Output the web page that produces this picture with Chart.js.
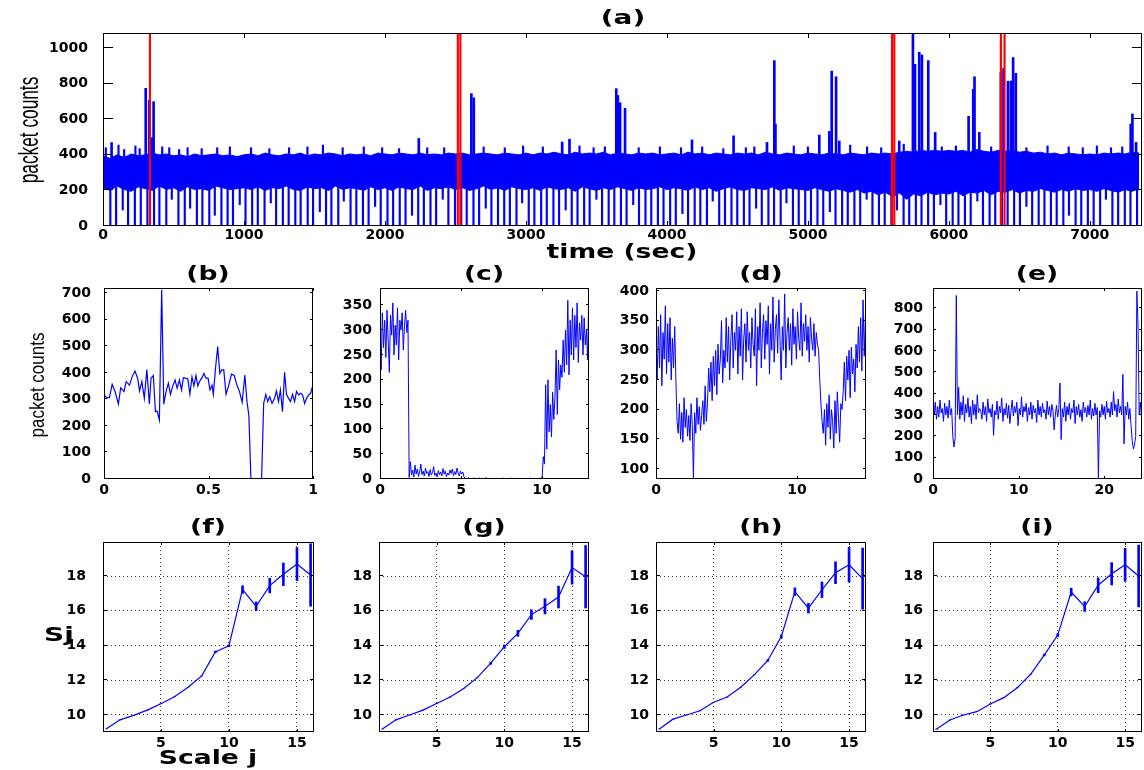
<!DOCTYPE html>
<html>
<head>
<meta charset="utf-8">
<script src="https://cdn.jsdelivr.net/npm/chart.js@4.4.0/dist/chart.umd.min.js"></script>
<style>
  html, body { margin: 0; padding: 0; background: #fff; }
  #page { position: relative; width: 1144px; height: 770px; overflow: hidden; background: #fff; }
  canvas { position: absolute; z-index: 1; }
  .lbl { position: absolute; z-index: 2; white-space: nowrap; line-height: 1; color: #000;
         font-family: "DejaVu Sans", sans-serif; font-weight: bold;
         transform: translate(-50%, -50%) scaleX(1.4); }
  .ylbl { position: absolute; z-index: 2; white-space: nowrap; line-height: 1; color: #000;
          font-family: "Liberation Sans", Arial, sans-serif; }
</style>
</head>
<body>
<div id="page">
  <div class="lbl" style="left:623px;top:17px;font-size:20px">(a)</div>
  <div class="lbl" style="left:622px;top:251px;font-size:19px">time (sec)</div>
  <div class="ylbl" style="left:29px;top:130px;font-size:27px;transform:translate(-50%,-50%) rotate(-90deg) scaleX(0.64)">packet counts</div>

  <div class="lbl" style="left:208px;top:273px;font-size:19px">(b)</div>
  <div class="lbl" style="left:484px;top:273px;font-size:19px">(c)</div>
  <div class="lbl" style="left:761px;top:273px;font-size:19px">(d)</div>
  <div class="lbl" style="left:1037px;top:273px;font-size:19px">(e)</div>
  <div class="ylbl" style="left:37px;top:385px;font-size:20px;transform:translate(-50%,-50%) rotate(-90deg) scaleX(0.85)">packet counts</div>

  <div class="lbl" style="left:208px;top:526px;font-size:19px">(f)</div>
  <div class="lbl" style="left:484px;top:526px;font-size:19px">(g)</div>
  <div class="lbl" style="left:761px;top:526px;font-size:19px">(h)</div>
  <div class="lbl" style="left:1037px;top:526px;font-size:19px">(i)</div>
  <div class="lbl" style="left:59px;top:634px;font-size:20px">Sj</div>
  <div class="lbl" style="left:208px;top:757px;font-size:19px">Scale j</div>
</div>
<script>
// ---------- (a) whole trace, 0 .. 7370 s ----------
const aBandStep = 50;   // envelope read every 50 s
const aUpper = [
  395,380,400,385,405,395,400,410,400,405,395,400,390,405,395,400,405,395,400,390,
  400,405,395,410,400,395,405,400,410,395,405,400,410,405,395,405,400,405,395,410,
  405,400,410,405,400,410,400,405,400,410,405,410,400,405,410,405,400,410,405,400,
  410,400,410,405,415,405,400,415,405,410,405,415,400,410,405,400,410,405,410,400,
  405,410,400,415,405,410,400,410,405,400,410,405,410,400,415,405,400,410,405,400,
  410,405,400,410,405,400,410,405,400,410,405,410,405,415,420,415,425,420,425,420,
  425,420,425,415,430,420,415,425,420,425,415,420,410,415,405,410,400,410,405,400,
  405,400,410,405,410,405,415,410
];
const aLower = [
  215,200,225,205,195,220,210,200,225,205,215,195,220,205,210,200,225,215,205,210,
  215,205,220,200,215,210,225,205,200,220,210,215,200,225,205,215,210,200,220,205,
  215,200,220,210,205,225,200,215,210,220,205,215,200,210,225,205,215,200,220,210,
  205,215,200,220,210,205,215,195,220,210,200,215,205,220,210,200,215,205,210,220,
  205,215,210,200,220,205,215,195,210,220,205,200,215,210,205,220,200,215,210,205,
  200,215,205,195,210,200,190,205,185,195,175,190,165,185,150,180,170,190,175,185,
  180,195,170,190,185,200,175,195,190,205,185,200,195,210,200,190,205,195,210,200,
  205,195,210,200,190,205,195,210
];
// small bursts just above the band
const aMinorTimes = [20,110,150,230,260,420,470,540,600,700,810,900,1050,1180,1320,1450,1560,1700,1850,1980,
  2100,2300,2420,2700,2850,2980,3120,3380,3480,3560,3800,3950,4100,4250,4400,4560,4620,4900,5000,5300,
  5420,5520,5680,5950,6050,6300,6550,6700,6850,6950,7050,7150,7230];
const aMinorPeaks = [440,455,430,450,435,445,440,430,440,435,440,445,440,435,440,445,455,440,445,440,
  435,440,440,445,440,450,445,450,440,445,440,445,440,445,435,440,445,450,445,455,
  445,440,460,445,450,445,440,450,445,440,450,440,445];
const aDipTimes = [
  52,93,140,178,226,268,315,362,400,449, 488,535,580,618,666,705,754,793,840,884,
  922,970,1011,1058,1098,1146,1190,1228,1276,1317, 1364,1402,1452,1490,1538,1582,1620,1669,1708,1756,
  1797,1844,1884,1930,1970,2018,2058,2105,2146,2192, 2236,2276,2323,2363,2410,2450,2497,2541,2580,2628,
  2668,2715,2755,2802,2846,2886,2933,2973,3020,3060, 3108,3148,3195,3235,3282,3325,3366,3413,3452,3500,
  3540,3587,3627,3674,3714,3761,3802,3848,3889,3936, 3976,4023,4063,4110,4150,4197,4237,4284,4325,4371,
  4412,4458,4499,4546,4586,4633,4673,4720,4760,4807, 4848,4894,4935,4981,5022,5068,5109,5156,5196,5243,
  5283,5330,5371,5417,5458,5504,5545,5592,5632,5679, 5719,5766,5806,5853,5894,5940,5981,6027,6068,6114,
  6155,6202,6242,6289,6329,6376,6417,6463,6504,6550, 6591,6637,6678,6724,6765,6812,6852,6899,6939,6986,
  7027,7073,7114,7160,7201,7248,7288,7335
];
const aDipFloor = [
  0,0,90,0,0,0,0,0,0,0, 150,0,0,100,0,0,0,60,0,0,
  0,120,0,0,0,0,130,0,0,0, 0,0,0,0,80,0,0,0,140,0,
  0,0,0,110,0,0,0,0,0,60, 0,0,0,0,150,0,0,0,0,0,
  0,100,0,0,0,0,0,130,0,0, 0,0,0,0,90,0,0,0,0,150,
  0,0,0,0,0,120,0,0,0,0, 0,0,0,70,0,0,0,0,140,0,
  0,0,0,0,0,100,0,0,0,0, 130,0,0,0,0,0,0,80,0,0,
  0,0,0,150,0,0,0,0,90,0, 0,0,0,0,0,120,0,0,0,0,
  0,140,0,0,0,0,0,0,0,110, 0,0,0,0,0,0,60,0,0,0,
  0,0,150,0,0,0,0,0
];
const aSpikeTimes = [61,303,328,345,359,2240,2613,2630,3257,3309,3641,3652,3668,3703,4178,4473,4710,4762,4770,
  5081,5152,5169,5200,5223,5648,5745,5760,5790,5809,5854,5903,6140,6173,6182,6216,6369,6388,6419,6440,6456,6475,7290,7302,7328];
const aSpikePeaks = [469,774,706,497,699,492,744,721,472,488,772,734,693,662,484,507,470,930,573,
  511,532,871,839,478,478,1085,909,977,962,930,526,617,768,839,526,863,886,814,815,947,858,573,630,470];
const aMarkTimes = [333, 2517, 2535, 5597, 5613, 6369, 6395];
const aXTicks = [0, 1000, 2000, 3000, 4000, 5000, 6000, 7000];
const aYTicks = [0, 200, 400, 600, 800, 1000];

// ---------- (b) one second ----------
const bX = [0,0.013,0.026,0.039,0.053,0.069,0.080,0.096,0.106,0.122,0.135,0.148,0.161,0.170,0.181,0.193,0.205,0.217,0.225,0.236,
  0.246,0.254,0.265,0.276,0.286,0.297,0.308,0.318,0.329,0.340,0.350,0.361,0.371,0.380,0.390,0.401,0.411,0.421,0.430,0.440,
  0.449,0.459,0.469,0.478,0.488,0.498,0.507,0.517,0.523,0.535,0.544,0.554,0.564,0.573,0.584,0.597,0.610,0.623,0.636,0.648,
  0.661,0.674,0.684,0.693,0.703,0.754,0.764,0.774,0.783,0.793,0.804,0.816,0.825,0.835,0.844,0.854,0.864,0.873,0.883,0.892,
  0.902,0.912,0.921,0.931,0.941,0.950,0.960,0.969,0.979,0.989,1.0];
const bY = [317,307,307,357,329,283,344,330,367,354,386,407,380,332,367,304,413,283,380,390,
  254,256,222,713,282,330,361,319,351,373,342,373,336,382,380,377,319,385,351,390,
  351,370,382,398,380,380,336,354,319,430,499,398,411,411,319,354,395,390,354,330,
  289,392,292,241,0,0,285,319,292,310,285,304,332,292,336,254,402,319,304,292,
  319,292,330,317,323,317,285,304,317,323,357];
const bXTicks = [0, 0.5, 1];
const bYTicks = [0, 100, 200, 300, 400, 500, 600, 700];

// ---------- (c) ----------
const cStep = 0.072;
const cY = [
  300,220,335,265,320,245,340,280,215,330,290,355,250,310,270,345,240,320,300,335,260,310,340,295,320,
  3,35,8,18,4,28,10,20,5,14,30,9,16,6,22,11,15,5,19,8,13,25,7,12,4,17,9,14,6,21,10,16,5,12,8,18,11,20,7,15,9,22,12,6,16,10,14,4,
  2,0,1,3,0,1,0,2,0,1,0,0,2,1,0,0,1,0,3,0,0,1,0,0,2,0,1,0,0,0,1,0,2,0,0,1,0,0,0,2,0,1,0,0,1,0,0,2,0,0,1,0,0,0,1,0,2,0,0,1,0,0,1,0,2,0,
  5,45,30,190,60,200,95,150,85,175,120,165,260,130,240,180,230,205,280,215,300,230,360,210,320,250,345,240,330,265,355,235,315,280,330,250,325,270,300,240,380
];
const cXTicks = [0, 5, 10];
const cYTicks = [0, 50, 100, 150, 200, 250, 300, 350];

// ---------- (d) ----------
const dStep = 0.083;
const dY = [
  300,250,340,270,360,240,330,285,375,260,345,280,355,250,320,270,340,
  250,180,
  160,210,150,195,145,220,170,200,155,190,148,210,175,85,195,160,220,175,205,165,190,215,175,240,180,
  210,270,230,280,215,290,240,300,225,310,260,285,350,245,300,270,355,
  280,340,250,320,360,270,330,300,365,260,340,290,370,250,320,345,280,365,300,330,
  270,355,310,290,370,240,340,300,380,270,330,360,285,350,310,375,260,345,300,390,
  280,335,360,295,385,320,250,340,300,395,270,330,355,300,345,275,370,310,340,285,
  365,320,300,380,290,345,315,360,300,340,280,355,320,300,345,290,330,310,
  300,250,210,180,160,200,
  140,210,170,225,150,200,180,135,215,160,230,185,145,210,200,
  230,280,215,290,250,300,220,305,260,285,230,310,270,340,280,355,265,385,290,360
];
const dXTicks = [0, 10];
const dYTicks = [100, 150, 200, 250, 300, 350, 400];

// ---------- (e) ----------
const eStep = 0.136;
const eY = [
  400,300,360,280,340,290,370,310,330,270,355,300,340,285,370,300,330,
  200,150,190,860,
  300,430,280,360,300,390,270,350,310,380,290,340,260,370,300,350,280,395,310,330,
  320,280,360,300,340,270,375,310,330,290,350,205,320,300,365,280,340,310,380,270,
  330,300,355,285,345,260,320,370,295,340,310,360,250,330,300,385,290,340,315,355,
  270,335,300,360,280,345,310,330,265,370,300,340,290,355,310,325,280,365,300,340,
  290,350,320,230,300,345,290,330,
  450,
  185,330,290,360,270,340,300,355,280,330,310,370,260,340,300,350,290,325,270,360,
  310,335,290,345,300,370,280,330,295,355,300,335,
  0,
  320,290,350,300,340,280,365,310,330,290,360,300,410,320,350,290,375,310,340,300,
  490,165,340,300,360,280,330,250,180,140,160,200,880,720,300,360,290
];
const eXTicks = [0, 10, 20];
const eYTicks = [0, 100, 200, 300, 400, 500, 600, 700, 800];

// ---------- (f)-(i) Sj versus scale j ----------
const scaleJ = [1,2,3,4,5,6,7,8,9,10,11,12,13,14,15,16];
const fY = [9.2,9.72,9.98,10.28,10.65,11.05,11.6,12.25,13.63,13.98,17.22,16.26,17.45,18.1,18.69,18.06];
const fE = [0,0,0,0,0,0,0,0,0.05,0.05,0.22,0.25,0.42,0.65,0.95,1.8];
const gY = [9.19,9.72,10.0,10.28,10.66,11.04,11.52,12.15,12.98,13.93,14.7,15.78,16.26,16.79,18.49,17.96];
const gE = [0,0,0,0,0,0,0,0,0.06,0.1,0.17,0.28,0.44,0.63,0.96,1.8];
const hY = [9.19,9.76,10.0,10.24,10.73,11.03,11.6,12.31,13.14,14.52,17.1,16.15,17.21,18.19,18.65,17.85];
const hE = [0,0,0,0,0,0,0,0,0.05,0.08,0.22,0.28,0.45,0.63,1.0,1.76];
const iY = [9.18,9.71,10.0,10.19,10.63,11.0,11.57,12.35,13.45,14.6,17.08,16.24,17.47,18.13,18.65,18.0];
const iE = [0,0,0,0,0,0,0,0,0.05,0.08,0.22,0.28,0.43,0.64,0.95,1.78];
const sXTicks = [5, 10, 15];
const sYTicks = [10, 12, 14, 16, 18];

const BLUE = '#0000ff';
const RED = '#ff0000';
const TICK_FONT = { family: 'DejaVu Sans', size: 14, weight: 'bold' };
Chart.defaults.font.family = 'DejaVu Sans';
Chart.defaults.color = '#000';
const page = document.getElementById('page');

// box around the plot and inward tick marks on all four sides
const boxTicks = {
  id: 'boxTicks',
  afterDraw(chart, args, opts) {
    const { ctx, chartArea: a, scales } = chart;
    ctx.save();
    ctx.strokeStyle = '#000';
    ctx.lineWidth = 1;
    ctx.beginPath();
    scales.x.ticks.forEach(t => {
      const px = Math.round(scales.x.getPixelForValue(t.value)) + 0.5;
      ctx.moveTo(px, a.bottom); ctx.lineTo(px, a.bottom - opts.xl);
      ctx.moveTo(px, a.top); ctx.lineTo(px, a.top + opts.xl);
    });
    scales.y.ticks.forEach(t => {
      const py = Math.round(scales.y.getPixelForValue(t.value)) - 0.5;
      ctx.moveTo(a.left, py); ctx.lineTo(a.left + opts.yl, py);
      ctx.moveTo(a.right, py); ctx.lineTo(a.right - opts.yl, py);
    });
    ctx.stroke();
    ctx.strokeRect(a.left + 0.5, a.top + 0.5, a.right - a.left - 1, a.bottom - a.top - 1);
    ctx.restore();
  }
};

const stepPts = (step, ys) => ys.map((y, i) => ({ x: i * step, y }));
const pts = (xs, ys) => ys.map((y, i) => ({ x: xs[i], y }));
const line = (data, w) => ({ data, borderColor: BLUE, borderWidth: w, pointRadius: 0, fill: false, tension: 0, order: 2 });

// rect = plot area [left, top, right, bottom] in page pixels
function panel(rect, o) {
  const yw = o.yw || 80, rp = 14;
  const w = rect[2] - rect[0] + yw + rp;
  const h = rect[3] - rect[1] + 6 + 28;
  const cv = document.createElement('canvas');
  cv.width = w; cv.height = h;
  cv.style.left = (rect[0] - yw) + 'px';
  cv.style.top = (rect[1] - 6) + 'px';
  cv.style.width = w + 'px';
  cv.style.height = h + 'px';
  page.appendChild(cv);
  const grid = !!o.grid;
  return new Chart(cv.getContext('2d'), {
    type: 'line',
    data: { datasets: o.datasets },
    options: {
      responsive: false, animation: false, events: [], devicePixelRatio: 1,
      layout: { padding: { left: 0, right: rp, top: 6, bottom: 0 } },
      elements: { point: { radius: 0 } },
      plugins: { legend: { display: false }, tooltip: { enabled: false }, title: { display: false },
                 boxTicks: { xl: o.xl, yl: o.yl } },
      scales: {
        x: {
          type: 'linear', min: o.xmin, max: o.xmax, offset: false,
          grid: { display: grid, drawOnChartArea: grid, drawTicks: false, color: '#333', offset: false },
          border: { display: false, dash: [1, 3] },
          ticks: { font: TICK_FONT, color: '#000', padding: o.xpad, maxRotation: 0, autoSkip: false,
                   callback: v => String(v) },
          afterBuildTicks: s => { s.ticks = o.xticks.map(v => ({ value: v })); },
          afterFit: s => { s.height = 28; s.paddingLeft = 0; s.paddingRight = 0; }
        },
        y: {
          type: 'linear', min: o.ymin, max: o.ymax,
          grid: { display: grid, drawOnChartArea: grid, drawTicks: false, color: '#333' },
          border: { display: false, dash: [1, 3] },
          ticks: { font: TICK_FONT, color: '#000', padding: o.ypad, autoSkip: false,
                   callback: v => String(v) },
          afterBuildTicks: s => { s.ticks = o.yticks.map(v => ({ value: v })); },
          afterFit: s => { s.width = yw; s.paddingTop = 0; s.paddingBottom = 0; }
        }
      }
    },
    plugins: [boxTicks]
  });
}

// (a)
panel([103, 33, 1142, 226], {
  yw: 100, xmin: 0, xmax: 7370, ymin: 0, ymax: 1085, xticks: aXTicks, yticks: aYTicks,
  xpad: 1, ypad: 15, xl: 5, yl: 10,
  datasets: [
    { data: stepPts(aBandStep, aUpper), borderColor: BLUE, backgroundColor: BLUE, borderWidth: 1,
      pointRadius: 0, fill: '+1', tension: 0, order: 3 },
    { data: stepPts(aBandStep, aLower), borderColor: BLUE, borderWidth: 1, pointRadius: 0,
      fill: false, tension: 0, order: 3 },
    { type: 'bar', data: aMinorTimes.map((t, i) => ({ x: t, y: [380, aMinorPeaks[i]] })),
      backgroundColor: BLUE, barThickness: 1.5, grouped: false, order: 2 },
    { type: 'bar', data: aDipTimes.map((t, i) => ({ x: t, y: [aDipFloor[i], 235] })),
      backgroundColor: BLUE, barThickness: 1.5, grouped: false, order: 2 },
    { type: 'bar', data: aSpikeTimes.map((t, i) => ({ x: t, y: [350, aSpikePeaks[i]] })),
      backgroundColor: BLUE, barThickness: 2, grouped: false, order: 2 },
    { type: 'bar', data: aMarkTimes.map(t => ({ x: t, y: [0, 1085] })),
      backgroundColor: RED, barThickness: 1.5, grouped: false, order: 1 }
  ]
});

// (b)-(e)
panel([104, 288, 313, 479], {
  xmin: 0, xmax: 1, ymin: 0, ymax: 720, xticks: bXTicks, yticks: bYTicks,
  xpad: 3, ypad: 13, xl: 3, yl: 3, datasets: [line(pts(bX, bY), 1.2)]
});
panel([380, 288, 589, 479], {
  xmin: 0, xmax: 12.9, ymin: 0, ymax: 385, xticks: cXTicks, yticks: cYTicks,
  xpad: 3, ypad: 8, xl: 3, yl: 3, datasets: [line(stepPts(cStep, cY), 1)]
});
panel([656, 288, 866, 479], {
  xmin: 0, xmax: 14.9, ymin: 83, ymax: 405, xticks: dXTicks, yticks: dYTicks,
  xpad: 3, ypad: 7, xl: 3, yl: 3, datasets: [line(stepPts(dStep, dY), 1)]
});
panel([933, 288, 1142, 479], {
  xmin: 0, xmax: 24.4, ymin: 0, ymax: 895, xticks: eXTicks, yticks: eYTicks,
  xpad: 3, ypad: 10, xl: 3, yl: 3, datasets: [line(stepPts(eStep, eY), 1)]
});

// (f)-(i)
function sjPanel(rect, ys, es, ypad) {
  panel(rect, {
    xmin: 0.75, xmax: 16.25, ymin: 9.02, ymax: 19.96, xticks: sXTicks, yticks: sYTicks,
    xpad: 3, ypad: ypad, xl: 3, yl: 4, grid: true,
    datasets: [
      line(pts(scaleJ, ys), 1.2),
      { type: 'bar', data: scaleJ.map((j, i) => ({ x: j, y: [ys[i] - es[i], ys[i] + es[i]] })),
        backgroundColor: BLUE, barThickness: 2, grouped: false, order: 1 }
    ]
  });
}
sjPanel([103, 542, 314, 732], fY, fE, 17);
sjPanel([379, 542, 589, 732], gY, gE, 7);
sjPanel([656, 542, 866, 732], hY, hE, 7);
sjPanel([933, 542, 1142, 732], iY, iE, 10);
</script>
</body>
</html>
